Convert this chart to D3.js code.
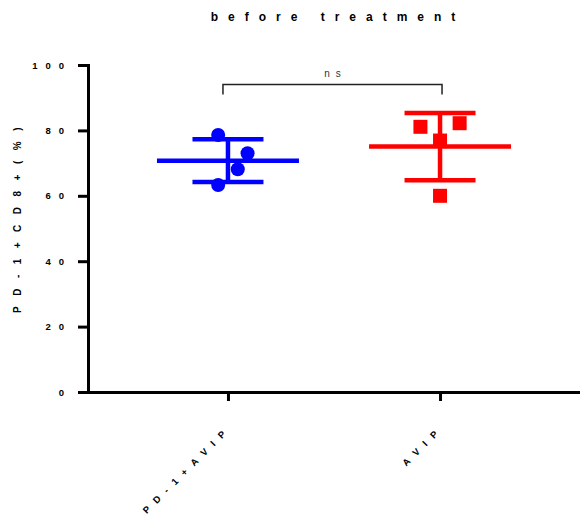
<!DOCTYPE html>
<html>
<head>
<meta charset="utf-8">
<script src="https://cdn.jsdelivr.net/npm/d3@7"></script>
<style>
  html, body { margin: 0; padding: 0; background: #fff; }
  svg { display: block; font-family: "Liberation Sans", Arial, sans-serif; }
</style>
</head>
<body>
<svg id="chart" width="580" height="515"></svg>
<script>
// Groups and their per-subject measurements (PD-1+CD8+ %)
const categories = ["PD-1+AVIP", "AVIP"];
const pd1AvipValues = [78.6, 73.0, 68.1, 63.3];
const avipValues = [81.1, 82.2, 76.9, 60.0];
// Horizontal spread of overlapping points, in marker diameters
const pd1AvipSpread = [-0.7, 1.4, 0.7, -0.7];
const avipSpread = [-1.4, 1.4, 0, 0];
const yTicks = [0, 20, 40, 60, 80, 100];
const titleText = "before treatment";
const yLabelText = "PD-1+CD8+(%)";
const sigText = "ns";
const sigLevel = 94;   // bracket height, in y units
const sigDrop = 3;     // bracket leg length, in y units

const groupColors = ["#0000ff", "#ff0000"];
const groupShapes = ["circle", "square"];
const groupValues = [pd1AvipValues, avipValues];
const groupSpread = [pd1AvipSpread, avipSpread];

const svg = d3.select("#chart");
const plotLeft = 88, plotRight = 580, plotTop = 65, plotBottom = 392;

const y = d3.scaleLinear().domain([0, 100]).range([plotBottom, plotTop]);
const x = d3.scalePoint().domain(categories).range([plotLeft, plotRight]).padding(0.66);

// Title
svg.append("text")
  .attr("x", 338)
  .attr("y", 21)
  .attr("text-anchor", "middle")
  .attr("font-size", 12)
  .attr("font-weight", "bold")
  .style("letter-spacing", "10px")
  .text(titleText);

// Y axis
const yAxis = svg.append("g")
  .attr("transform", `translate(${plotLeft},0)`)
  .call(d3.axisLeft(y).tickValues(yTicks).tickSize(10).tickSizeOuter(0).tickPadding(6));
yAxis.select(".domain").attr("stroke", "#000").attr("stroke-width", 3).attr("stroke-linecap", "square");
yAxis.selectAll(".tick line").attr("stroke", "#000").attr("stroke-width", 3);
yAxis.selectAll(".tick text")
  .attr("font-size", 9.5)
  .attr("font-weight", "bold")
  .attr("font-family", "Liberation Sans, Arial, sans-serif")
  .attr("fill", "#000")
  .style("letter-spacing", "8px");

// X axis
const xAxis = svg.append("g")
  .attr("transform", `translate(0,${plotBottom})`)
  .call(d3.axisBottom(x).tickSize(9).tickSizeOuter(0).tickFormat(""));
xAxis.select(".domain").attr("stroke", "#000").attr("stroke-width", 3);
xAxis.selectAll(".tick line").attr("stroke", "#000").attr("stroke-width", 3);

// Rotated category labels
svg.append("g").selectAll("text")
  .data(categories)
  .join("text")
  .attr("transform", d => `translate(${x(d) + 4},${plotBottom + 37}) rotate(-45)`)
  .attr("text-anchor", "end")
  .attr("font-size", 9.5)
  .attr("font-weight", "bold")
  .style("letter-spacing", "8px")
  .text(d => d);

// Y axis title
svg.append("text")
  .attr("transform", `translate(21,215) rotate(-90)`)
  .attr("text-anchor", "middle")
  .attr("font-size", 10)
  .attr("font-weight", "bold")
  .style("letter-spacing", "10.5px")
  .text(yLabelText);

// Mean ± SD bars and scattered points for each group
const meanHalf = 71, capHalf = 35.5, markerSize = 14;
categories.forEach((cat, i) => {
  const vals = groupValues[i];
  const m = d3.mean(vals);
  const sd = d3.deviation(vals);
  const cx = x(cat);
  const color = groupColors[i];
  const g = svg.append("g").attr("stroke", color).attr("fill", color);

  // points
  const pts = vals.map((v, k) => ({ v, dx: groupSpread[i][k] * markerSize }));
  if (groupShapes[i] === "circle") {
    g.selectAll("circle").data(pts).join("circle")
      .attr("cx", d => cx + d.dx)
      .attr("cy", d => y(d.v))
      .attr("r", markerSize / 2)
      .attr("stroke", "none");
  } else {
    g.selectAll("rect").data(pts).join("rect")
      .attr("x", d => cx + d.dx - markerSize / 2)
      .attr("y", d => y(d.v) - markerSize / 2)
      .attr("width", markerSize)
      .attr("height", markerSize)
      .attr("stroke", "none");
  }

  // error bar
  g.append("line").attr("x1", cx).attr("x2", cx).attr("y1", y(m + sd)).attr("y2", y(m - sd)).attr("stroke-width", 4.5);
  [m + sd, m - sd].forEach(v => {
    g.append("line").attr("x1", cx - capHalf).attr("x2", cx + capHalf)
      .attr("y1", y(v)).attr("y2", y(v)).attr("stroke-width", 4.5);
  });
  // mean
  g.append("line").attr("x1", cx - meanHalf).attr("x2", cx + meanHalf)
    .attr("y1", y(m)).attr("y2", y(m)).attr("stroke-width", 4.5);
});

// Significance bracket
const x0 = x(categories[0]) - 5, x1 = x(categories[1]) + 2;
svg.append("path")
  .attr("d", `M${x0},${y(sigLevel - sigDrop)}V${y(sigLevel)}H${x1}V${y(sigLevel - sigDrop)}`)
  .attr("fill", "none")
  .attr("stroke", "#222")
  .attr("stroke-width", 1.5);
svg.append("text")
  .attr("x", (x0 + x1) / 2 + 3)
  .attr("y", y(sigLevel) - 8)
  .attr("text-anchor", "middle")
  .attr("font-size", 10)
  .attr("fill", "#333")
  .style("letter-spacing", "6px")
  .text(sigText);
</script>
</body>
</html>
